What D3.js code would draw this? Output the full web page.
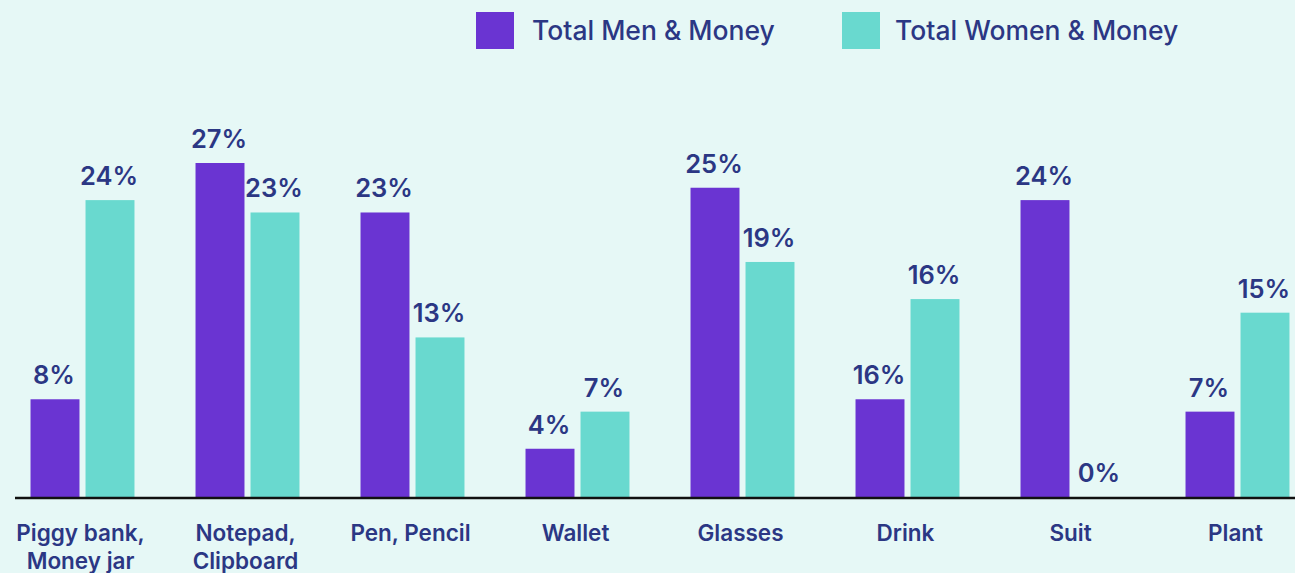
<!DOCTYPE html>
<html>
<head>
  <meta charset="UTF-8">
  <title>Men & Money vs Women & Money</title>
  <script src="https://d3js.org/d3.v7.min.js"></script>
  <style>
    body { margin: 0; padding: 0; background: #e6f8f6; }
    svg { display: block; font-family: Inter, "Noto Sans", sans-serif; }
    .lbl { fill: #2b3784; font-weight: 600; }
  </style>
</head>
<body>
  <svg id="chart" width="1295" height="573"></svg>
  <script>
    // data
    var categories = ["Piggy bank, Money jar", "Notepad, Clipboard", "Pen, Pencil", "Wallet", "Glasses", "Drink", "Suit", "Plant"];
    var categoryLines = [["Piggy bank,", "Money jar"], ["Notepad,", "Clipboard"], ["Pen, Pencil"], ["Wallet"], ["Glasses"], ["Drink"], ["Suit"], ["Plant"]];
    var series = ["Total Men & Money", "Total Women & Money"];
    var menValues = [7.9, 27, 23, 3.9, 25, 7.9, 24, 6.9];
    var womenValues = [24, 23, 12.9, 6.9, 19, 16, 0, 14.9];
    // printed labels (Drink / men bar is labelled 16% in the original)
    var menLabels = ["8%", "27%", "23%", "4%", "25%", "16%", "24%", "7%"];
    var womenLabels = ["24%", "23%", "13%", "7%", "19%", "16%", "0%", "15%"];
    var colors = ["#6a34d2", "#69d9cf"];

    var W = 1295, H = 573, baseY = 497, topY = 163;
    var svg = d3.select("#chart");

    var x = d3.scaleBand().domain(categories).range([0, 1320])
      .paddingInner(0.37).paddingOuter(0.185);
    var xs = d3.scaleBand().domain(series).range([0, x.bandwidth()]).paddingInner(0.11);
    var y = d3.scaleLinear().domain([0, 27]).range([baseY, topY]);

    var rows = categories.map(function (c, i) {
      return {
        cat: c,
        vals: [
          { s: series[0], v: menValues[i], t: menLabels[i] },
          { s: series[1], v: womenValues[i], t: womenLabels[i] }
        ]
      };
    });

    var groups = svg.selectAll(".grp").data(rows).enter().append("g")
      .attr("class", "grp")
      .attr("transform", function (d) { return "translate(" + x(d.cat) + ",0)"; });

    groups.selectAll("rect").data(function (d) { return d.vals; }).enter().append("rect")
      .attr("x", function (d) { return xs(d.s); })
      .attr("y", function (d) { return y(d.v); })
      .attr("width", xs.bandwidth())
      .attr("height", function (d) { return baseY - y(d.v); })
      .attr("fill", function (d, i) { return colors[i]; });

    groups.selectAll("text").data(function (d) { return d.vals; }).enter().append("text")
      .attr("class", "lbl")
      .attr("x", function (d) { return xs(d.s) + xs.bandwidth() / 2 - 1; })
      .attr("y", function (d) { return y(d.v) - 15; })
      .attr("text-anchor", "middle")
      .style("font-size", "25.5px")
      .text(function (d) { return d.t; });

    // x axis
    var axis = svg.append("g")
      .attr("transform", "translate(0," + (baseY + 1) + ")")
      .call(d3.axisBottom(x).tickSize(0).tickFormat(""));
    axis.select(".domain").remove();
    axis.append("line")
      .attr("x1", 15).attr("x2", W)
      .attr("stroke", "#111").attr("stroke-width", 2.5);

    axis.selectAll(".tick").each(function (d, i) {
      var t = d3.select(this).select("text")
        .attr("class", "lbl")
        .attr("y", 0).attr("dy", null)
        .style("font-size", "22.5px")
        .style("font-family", "Inter, 'Noto Sans', sans-serif");
      categoryLines[i].forEach(function (line, k) {
        t.append("tspan").attr("x", -2).attr("y", 43 + k * 27.5).text(line);
      });
    });

    // legend
    var leg = svg.append("g").attr("transform", "translate(476,12)");
    var legX = [0, 366];
    series.forEach(function (s, i) {
      var g = leg.append("g").attr("transform", "translate(" + legX[i] + ",0)");
      g.append("rect").attr("width", 38).attr("height", 37).attr("fill", colors[i]);
      g.append("text").attr("class", "lbl")
        .attr("x", 56 - i * 3).attr("y", 28)
        .style("font-size", "26.5px").style("font-weight", 500)
        .text(s);
    });
  </script>
</body>
</html>
